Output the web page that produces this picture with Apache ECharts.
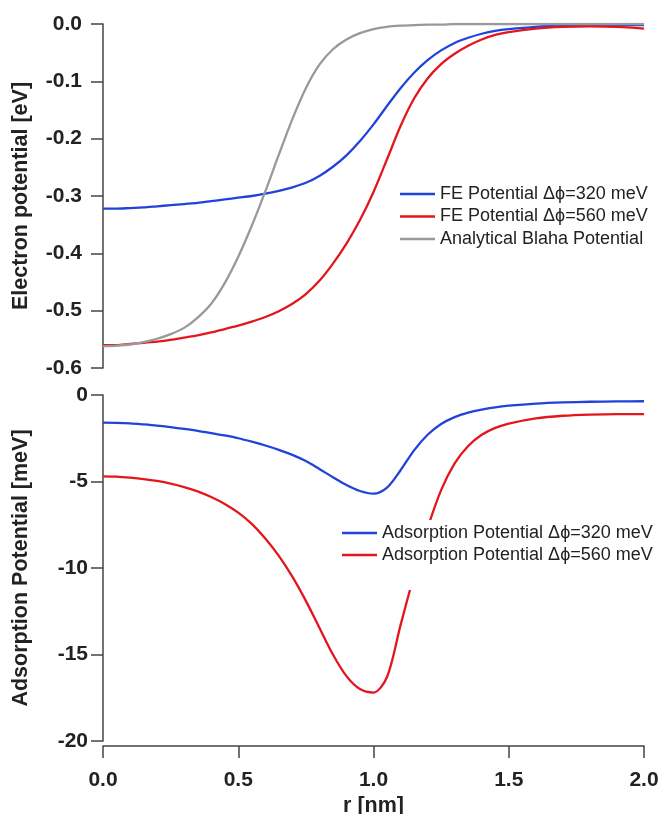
<!DOCTYPE html>
<html>
<head>
<meta charset="utf-8">
<script src="https://cdn.jsdelivr.net/npm/echarts@6/dist/echarts.min.js"></script>
<style>
  html, body { margin: 0; padding: 0; background: #fff; }
  #main { width: 671px; height: 814px; }
</style>
</head>
<body>
<div id="main"></div>
<script>
// r grid for the upper panel (nm)
const rTop = [0, 0.05, 0.1, 0.15, 0.2, 0.25, 0.3, 0.35, 0.4, 0.45, 0.5, 0.55, 0.6, 0.65, 0.7,
  0.75, 0.8, 0.85, 0.9, 0.95, 1.0, 1.05, 1.1, 1.15, 1.2, 1.25, 1.3, 1.35, 1.4, 1.45, 1.5,
  1.6, 1.7, 1.8, 1.9, 2.0];
// electron potential (eV)
const fe320 = [-0.322, -0.322, -0.321, -0.320, -0.318, -0.316, -0.314, -0.312, -0.309, -0.306,
  -0.303, -0.300, -0.296, -0.291, -0.285, -0.277, -0.265, -0.249, -0.229, -0.204, -0.175,
  -0.143, -0.112, -0.085, -0.063, -0.046, -0.033, -0.024, -0.017, -0.012, -0.009,
  -0.005, -0.003, -0.002, -0.002, -0.002];
const fe560 = [-0.560, -0.560, -0.558, -0.556, -0.554, -0.551, -0.547, -0.543, -0.538, -0.532,
  -0.526, -0.519, -0.511, -0.501, -0.488, -0.471, -0.448, -0.418, -0.383, -0.342, -0.293,
  -0.236, -0.178, -0.130, -0.095, -0.070, -0.052, -0.038, -0.027, -0.019, -0.014,
  -0.008, -0.005, -0.004, -0.005, -0.008];
const blaha = [-0.562, -0.561, -0.559, -0.555, -0.549, -0.541, -0.530, -0.512, -0.488, -0.452,
  -0.406, -0.352, -0.292, -0.228, -0.166, -0.112, -0.071, -0.044, -0.027, -0.016, -0.009,
  -0.005, -0.003, -0.002, -0.001, -0.001, 0, 0, 0, 0, 0,
  0, 0, 0, 0, 0];

// r grid for the lower panel (nm)
const rBot = rTop;
// adsorption potential (meV)
const ads320 = [-1.60, -1.61, -1.64, -1.70, -1.77, -1.86, -1.96, -2.07, -2.20, -2.34,
  -2.50, -2.70, -2.92, -3.17, -3.46, -3.82, -4.28, -4.75, -5.20, -5.55, -5.70,
  -5.35, -4.35, -3.20, -2.30, -1.68, -1.28, -1.02, -0.84, -0.71, -0.62,
  -0.50, -0.43, -0.39, -0.37, -0.36];
const ads560 = [-4.70, -4.72, -4.78, -4.86, -4.97, -5.12, -5.32, -5.57, -5.90, -6.30,
  -6.80, -7.45, -8.30, -9.30, -10.50, -11.90, -13.45, -15.00, -16.25, -17.00, -17.20,
  -16.30, -13.30, -10.40, -7.70, -5.50, -3.95, -2.95, -2.30, -1.90, -1.65,
  -1.35, -1.20, -1.13, -1.10, -1.10];

const names = [
  'FE Potential \u0394\u03D5=320 meV',
  'FE Potential \u0394\u03D5=560 meV',
  'Analytical Blaha Potential',
  'Adsorption Potential \u0394\u03D5=320 meV',
  'Adsorption Potential \u0394\u03D5=560 meV'
];

const BLUE = '#2142db', RED = '#e3161d', GRAY = '#999999';
const FONT = 'Liberation Sans';

const pairs = (xs, ys) => xs.map((x, i) => [x, ys[i]]);

var myChart = echarts.init(document.getElementById('main'));
var option;

const axisLine = { show: true, onZero: false, lineStyle: { color: '#444', width: 1.5 } };
const axisTick = { show: true, length: 12, lineStyle: { color: '#444', width: 1.5 } };
const tickLabel = { color: '#222', fontSize: 21, fontWeight: 'bold', fontFamily: FONT };
const axisName = { color: '#222', fontSize: 21.5, fontWeight: 'bold', fontFamily: FONT };
const legendText = { fontSize: 18, lineHeight: 18, color: '#222', fontFamily: FONT };

function line(name, data, color, xi) {
  return {
    name: name,
    type: 'line',
    xAxisIndex: xi,
    yAxisIndex: xi,
    data: data,
    smooth: 0.3,
    symbol: 'none',
    lineStyle: { color: color, width: 2.3 },
    itemStyle: { color: color }
  };
}

option = {
  animation: false,
  backgroundColor: '#fff',
  textStyle: { fontFamily: FONT },
  grid: [
    { left: 103, top: 24, width: 541, height: 344, outerBoundsMode: 'none', containLabel: false },
    { left: 103, top: 395, width: 541, height: 346, outerBoundsMode: 'none', containLabel: false }
  ],
  legend: [
    {
      data: names.slice(0, 3),
      orient: 'vertical',
      left: 395, top: 180,
      icon: 'rect',
      itemWidth: 35, itemHeight: 2.5, itemGap: 4.5, itemTextGap: 12,
      padding: 5,
      backgroundColor: '#fff',
      textStyle: legendText
    },
    {
      data: names.slice(3),
      orient: 'vertical',
      left: 338, top: 520,
      icon: 'rect',
      itemWidth: 35, itemHeight: 2.5, itemGap: 4, itemTextGap: 11,
      padding: [4, 6, 26, 4],
      backgroundColor: '#fff',
      textStyle: legendText
    }
  ],
  xAxis: [
    {
      gridIndex: 0, type: 'value', min: 0, max: 2, interval: 0.5,
      show: false
    },
    {
      gridIndex: 1, type: 'value', min: 0, max: 2, interval: 0.5,
      position: 'bottom', offset: 5,
      name: 'r [nm]', nameLocation: 'middle', nameGap: 49, nameTextStyle: axisName,
      axisLine: axisLine, axisTick: axisTick,
      axisLabel: Object.assign({ margin: 24, formatter: v => v.toFixed(1) }, tickLabel),
      splitLine: { show: false }
    }
  ],
  yAxis: [
    {
      gridIndex: 0, type: 'value', min: -0.6, max: 0, interval: 0.1,
      name: 'Electron potential [eV]', nameLocation: 'middle', nameGap: 71, nameTextStyle: axisName,
      axisLine: axisLine, axisTick: axisTick,
      axisLabel: Object.assign({ margin: 21, formatter: v => v.toFixed(1) }, tickLabel),
      splitLine: { show: false }
    },
    {
      gridIndex: 1, type: 'value', min: -20, max: 0, interval: 5,
      name: 'Adsorption Potential [meV]', nameLocation: 'middle', nameGap: 71, nameTextStyle: axisName,
      axisLine: axisLine, axisTick: axisTick,
      axisLabel: Object.assign({ margin: 15 }, tickLabel),
      splitLine: { show: false }
    }
  ],
  series: [
    line(names[0], pairs(rTop, fe320), BLUE, 0),
    line(names[1], pairs(rTop, fe560), RED, 0),
    line(names[2], pairs(rTop, blaha), GRAY, 0),
    line(names[3], pairs(rBot, ads320), BLUE, 1),
    line(names[4], pairs(rBot, ads560), RED, 1)
  ]
};

option && myChart.setOption(option);
</script>
</body>
</html>
